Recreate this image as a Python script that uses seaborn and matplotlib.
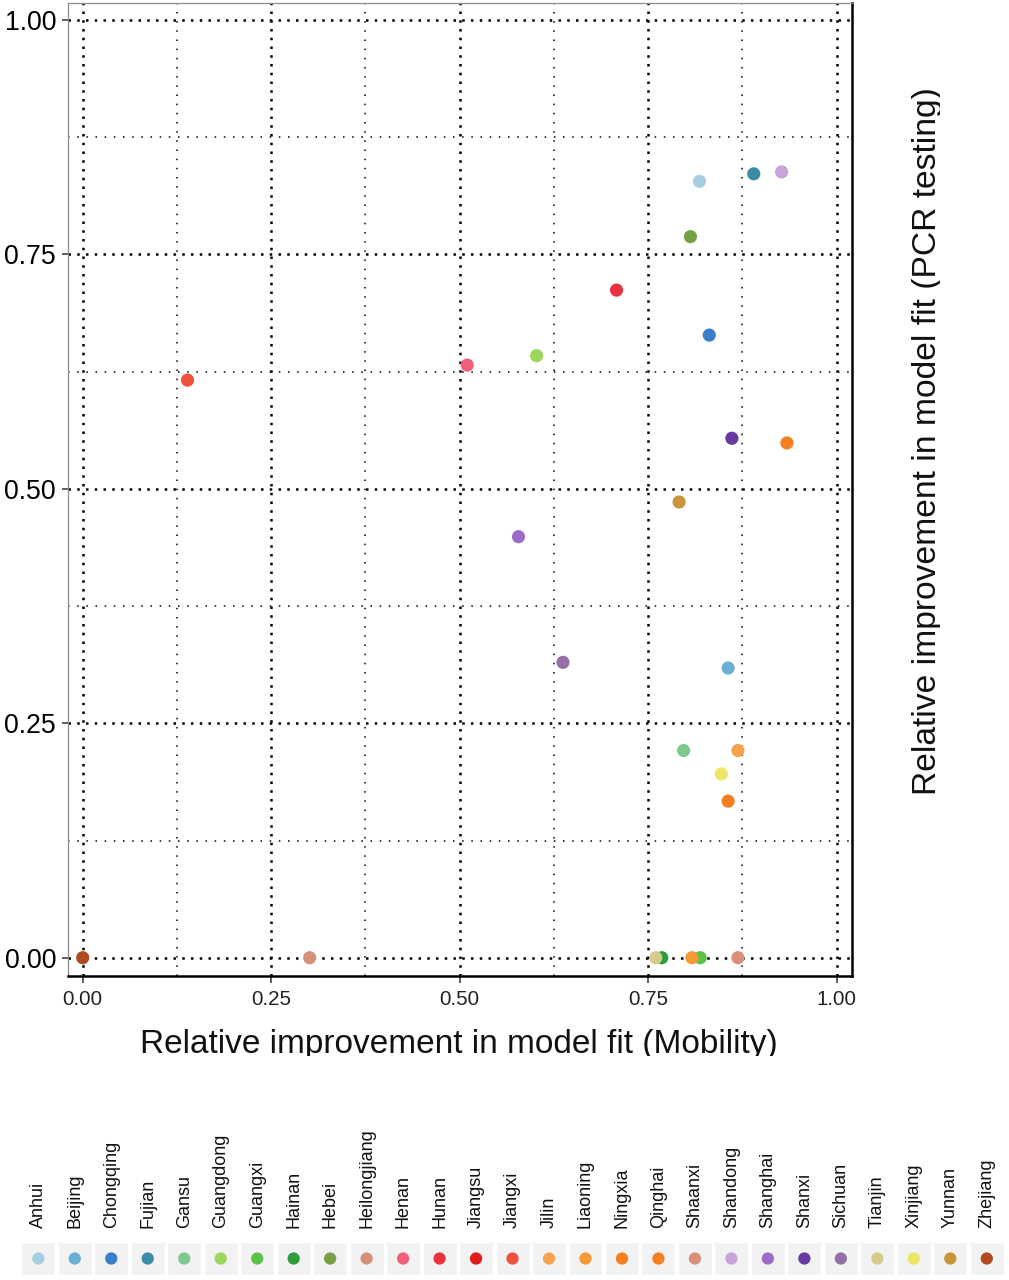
import numpy as np
import pandas as pd
import matplotlib
matplotlib.use("Agg")
import matplotlib.pyplot as plt
import seaborn as sns
from matplotlib.transforms import Bbox, TransformedBbox

# ---------------- data ----------------
provinces = ["Anhui", "Beijing", "Chongqing", "Fujian", "Gansu", "Guangdong", "Guangxi",
             "Hainan", "Hebei", "Heilongjiang", "Henan", "Hunan", "Jiangsu", "Jiangxi",
             "Jilin", "Liaoning", "Ningxia", "Qinghai", "Shaanxi", "Shandong", "Shanghai",
             "Shanxi", "Sichuan", "Tianjin", "Xinjiang", "Yunnan", "Zhejiang"]
colors = ["#a6cee3", "#6baed6", "#3a7dc9", "#3c8ca8", "#7fc98f", "#9cd65a", "#5cc24a",
          "#2e9e3a", "#77a045", "#d5907a", "#f0607a", "#e8323f", "#e31a1c", "#f0503c",
          "#f6a24f", "#f59a33", "#f4801f", "#f47e20", "#d98f7a", "#c9a4d9", "#9b6bc6",
          "#6a3aa3", "#9670a8", "#d4cb8c", "#ece566", "#c9953a", "#b04a20"]
mobility = [0.818, 0.856, 0.831, 0.890, 0.797, 0.602, 0.819,
            0.768, 0.806, 0.301, 0.510, 0.708, np.nan, 0.139,
            0.869, 0.808, 0.934, 0.856, 0.869, 0.927, 0.578,
            0.861, 0.637, 0.760, 0.847, 0.791, 0.000]
pcr = [0.828, 0.309, 0.664, 0.836, 0.221, 0.642, 0.000,
       0.000, 0.769, 0.000, 0.632, 0.712, np.nan, 0.616,
       0.221, 0.000, 0.549, 0.167, 0.000, 0.838, 0.449,
       0.554, 0.315, 0.000, 0.196, 0.486, 0.000]
major_ticks = [0.0, 0.25, 0.5, 0.75, 1.0]
minor_ticks = [0.125, 0.375, 0.625, 0.875]
tick_labels = ["0.00", "0.25", "0.50", "0.75", "1.00"]
xlabel = "Relative improvement in model fit (Mobility)"
ylabel = "Relative improvement in model fit (PCR testing)"

df = pd.DataFrame({"province": provinces, "mobility": mobility, "pcr": pcr})
palette = dict(zip(provinces, colors))

# ---------------- style ----------------
sns.set_theme(style="white")
plt.rcParams["font.family"] = ["Liberation Sans", "DejaVu Sans"]

W, H = 1009, 1280
fig = plt.figure(figsize=(W / 100, H / 100), dpi=100)

# main axes (pixel-based placement)
L, R, T, B = 68.3, 852.3, 2.7, 976.0
ax = fig.add_axes([L / W, 1 - B / H, (R - L) / W, (B - T) / H])

sns.scatterplot(data=df.dropna(), x="mobility", y="pcr", hue="province", palette=palette,
                s=90, linewidth=0, legend=False, ax=ax, zorder=3)

ax.set_xlim(-0.0191, 1.0207)
ax.set_ylim(-0.0195, 1.0185)
ax.set_xticks(major_ticks)
ax.set_xticklabels(tick_labels)
ax.set_yticks(major_ticks)
ax.set_yticklabels(tick_labels)
ax.set_xticks(minor_ticks, minor=True)
ax.set_yticks(minor_ticks, minor=True)

ax.grid(True, which="major", color="black", linewidth=1.8, linestyle=(0, (1, 2.5)))
ax.grid(True, which="minor", color="black", linewidth=1.1, linestyle=(0, (1, 5)))
ax.set_axisbelow(True)

ax.tick_params(axis="y", which="major", left=True, length=4.3, width=1.1, color="#333333",
               labelsize=19.2, labelcolor="black", pad=4.5)
ax.tick_params(axis="x", which="major", bottom=True, length=5, width=1.1, color="#333333",
               labelsize=14.8, labelcolor="#222222", pad=5)
ax.tick_params(which="minor", length=0)

for side in ["left", "top"]:
    ax.spines[side].set_color("#8c8c8c")
    ax.spines[side].set_linewidth(0.9)
for side in ["bottom", "right"]:
    ax.spines[side].set_color("black")
    ax.spines[side].set_linewidth(1.8)

ax.set_xlabel("")
ax.set_ylabel("")

# axis titles (clipped like the reference)
xt = fig.text(459 / W, 1 - 1053 / H, xlabel, ha="center", va="baseline", fontsize=24, color="#111111")
xt.set_clip_box(TransformedBbox(Bbox([[0, 1 - 1055.5 / H], [1, 1]]), fig.transFigure))
xt.set_clip_on(True)

yt = fig.text(936 / W, 1 - 441 / H, ylabel, ha="center", va="baseline", rotation=90,
              rotation_mode="anchor", fontsize=24.2, color="#111111")
yt.set_clip_box(TransformedBbox(Bbox([[0, 0], [939.5 / W, 1]]), fig.transFigure))
yt.set_clip_on(True)

# ---------------- legend strip ----------------
step = 36.48
first_c = 38.3
lx0 = first_c - step / 2
lax = fig.add_axes([lx0 / W, 1 - 1275 / H, 27 * step / W, 33 / H])
idx = np.arange(len(provinces))
leg_df = pd.DataFrame({"i": idx, "y": np.zeros(len(provinces)), "province": provinces})
lax.bar(idx, 1.0, bottom=-0.5, width=0.93, color="#f2f2f2", zorder=1)
sns.scatterplot(data=leg_df, x="i", y="y", hue="province", palette=palette, s=78,
                linewidth=0, legend=False, ax=lax, zorder=3)
lax.set_xlim(-0.5, len(provinces) - 0.5)
lax.set_ylim(-0.5, 0.5)
lax.xaxis.tick_top()
lax.set_xticks(idx)
lax.set_xticklabels(provinces, rotation=90, fontsize=13, color="#111111")
lax.tick_params(axis="x", length=0, pad=10, top=True, bottom=False)
lax.set_yticks([])
lax.set_xlabel("")
lax.set_ylabel("")
for s in lax.spines.values():
    s.set_visible(False)
lax.set_facecolor("none")

fig.savefig("out.png", dpi=100)
